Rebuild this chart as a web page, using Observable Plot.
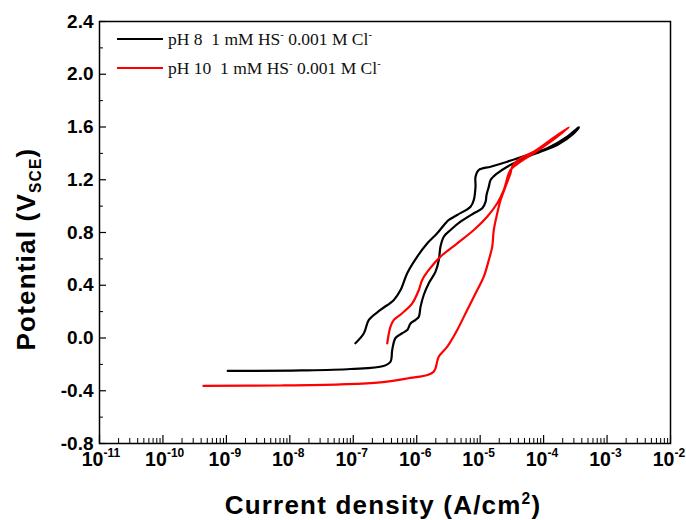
<!DOCTYPE html>
<html><head><meta charset="utf-8">
<script src="https://cdn.jsdelivr.net/npm/d3@7"></script>
<script src="https://cdn.jsdelivr.net/npm/@observablehq/plot@0.6"></script>
<style>
body{margin:0;background:#fff;}
#wrap{position:relative;width:686px;height:520px;}
.legend{position:absolute;left:117px;height:20px;line-height:20px;font-family:"Liberation Serif","Times New Roman",serif;font-size:17.5px;white-space:pre;display:flex;align-items:center;color:#111;}
.sw{display:inline-block;width:46px;height:0;border-top:2px solid;margin-right:5px;}
sup,sub{line-height:0;font-size:60%;}
.title{position:absolute;font-family:"Liberation Sans",Arial,sans-serif;font-weight:bold;font-size:26px;line-height:26px;letter-spacing:1.2px;white-space:nowrap;color:#000;}
</style></head><body><div id="wrap"></div>
<script>
// pH 8, 1 mM HS-, 0.001 M Cl- : current density (A/cm2) and potential (V SCE), in scan order
const ph8Current = [1.05e-9,1.5e-8,9.1e-8,3.0e-7,3.86e-7,4.11e-7,4.63e-7,5.9e-7,7.08e-7,7.98e-7,9.57e-7,1.08e-6,1.15e-6,1.29e-6,1.55e-6,1.98e-6,2.23e-6,2.37e-6,2.67e-6,3.41e-6,4.9e-6,7.94e-6,1.08e-5,1.22e-5,1.26e-5,1.37e-5,1.46e-5,1.86e-5,2.67e-5,3.84e-5,5.52e-5,8.93e-5,1.64e-4,2.99e-4,3.59e-4,
  3.39e-4,2.36e-4,1.14e-4,5.52e-5,2.67e-5,1.46e-5,9.5e-6,8.45e-6,8.45e-6,7.94e-6,7.05e-6,4.35e-6,3.21e-6,2.84e-6,2.1e-6,1.47e-6,1.02e-6,7.08e-7,5.56e-7,4.36e-7,2.68e-7,1.76e-7,1.47e-7,1.08e-7];
const ph8Potential = [-0.25,-0.246,-0.235,-0.212,-0.18,-0.09,0.0,0.036,0.06,0.11,0.137,0.162,0.238,0.326,0.415,0.503,0.592,0.693,0.768,0.819,0.882,0.946,0.984,1.034,1.085,1.148,1.198,1.249,1.299,1.337,1.375,1.413,1.464,1.552,1.598,
  1.59,1.527,1.439,1.388,1.337,1.299,1.274,1.223,1.148,1.047,0.996,0.933,0.895,0.87,0.794,0.718,0.617,0.491,0.364,0.289,0.213,0.137,0.036,-0.04];
// pH 10, 1 mM HS-, 0.001 M Cl-
const ph10Current = [4.35e-10,7.13e-9,6.3e-8,2.68e-7,7.98e-7,1.48e-6,1.84e-6,1.98e-6,2.23e-6,3.03e-6,4.35e-6,6.25e-6,9.0e-6,1.14e-5,1.37e-5,1.55e-5,1.64e-5,1.86e-5,2.1e-5,2.51e-5,3.01e-5,3.2e-5,4.34e-5,7.0e-5,1.29e-4,2.5e-4,
  1.29e-4,7.0e-5,4.34e-5,3.01e-5,2.36e-5,1.86e-5,1.29e-5,7.94e-6,4.35e-6,2.37e-6,1.55e-6,1.22e-6,1.08e-6,8.5e-7,5.9e-7,4.36e-7,3.86e-7,3.43e-7];
const ph10Potential = [-0.363,-0.36,-0.352,-0.337,-0.303,-0.28,-0.257,-0.229,-0.141,-0.066,0.061,0.213,0.364,0.465,0.592,0.693,0.819,0.946,1.047,1.148,1.249,1.299,1.363,1.413,1.502,1.598,
  1.489,1.401,1.337,1.274,1.123,1.022,0.92,0.819,0.718,0.617,0.516,0.44,0.364,0.263,0.188,0.137,0.086,-0.04];

const seriesNames = ["pH 8  1 mM HS", "pH 10  1 mM HS"];
const seriesColors = ["#000000", "#ff0000"];

// Ticks and tick labels
const xMajor = [1e-11,1e-10,1e-9,1e-8,1e-7,1e-6,1e-5,1e-4,1e-3,1e-2];
const xExponents = ["-11","-10","-9","-8","-7","-6","-5","-4","-3","-2"];
const minorFactors = [2,3,4,5,6,7,8,9];
const yMajor = [-0.8,-0.4,0.0,0.4,0.8,1.2,1.6,2.0,2.4];
const yMinor = [-0.6,-0.2,0.2,0.6,1.0,1.4,1.8,2.2];

const W = 686, H = 520, mL = 99, mR = 16, mT = 21, mB = 77;
const plotW = W - mL - mR, plotH = H - mT - mB;

const xMinor = xMajor.slice(0, -1).flatMap(d => minorFactors.map(f => d * f));
const ph8 = ph8Current.map((j, i) => ({j, e: ph8Potential[i]}));
const ph10 = ph10Current.map((j, i) => ({j, e: ph10Potential[i]}));

const chart = Plot.plot({
  width: W, height: H,
  marginLeft: mL, marginRight: mR, marginTop: mT, marginBottom: mB,
  style: {fontFamily: "'Liberation Sans', Arial, sans-serif", background: "#fff", color: "#000"},
  x: {type: "log", domain: [1e-11, 1e-2], axis: null},
  y: {domain: [-0.8, 2.4], axis: null},
  marks: [
    Plot.ruleX(xMinor, {x: d => d, insetTop: plotH - 5, stroke: "#000", strokeWidth: 1}),
    Plot.ruleX(xMajor, {x: d => d, insetTop: plotH - 8, stroke: "#000", strokeWidth: 1.2}),
    Plot.ruleY(yMinor, {y: d => d, insetRight: plotW - 4, stroke: "#000", strokeWidth: 1}),
    Plot.ruleY(yMajor, {y: d => d, insetRight: plotW - 7, stroke: "#000", strokeWidth: 1.2}),
    Plot.line(ph8, {x: "j", y: "e", stroke: seriesColors[0], strokeWidth: 2.2, curve: "catmull-rom"}),
    Plot.line(ph10, {x: "j", y: "e", stroke: seriesColors[1], strokeWidth: 2.2, curve: "catmull-rom"}),
    Plot.frame({stroke: "#000", strokeWidth: 1.5}),
    Plot.axisY(yMajor, {tickSize: 0, tickPadding: 6, tickFormat: d => d.toFixed(1), fontSize: 19, fontWeight: "bold", label: null}),
    Plot.text(xMajor, {x: d => d, text: () => "10", frameAnchor: "bottom", dy: 22, dx: -7, fontSize: 19.5, fontWeight: "bold", fill: "#000"}),
    Plot.text(xMajor, {x: d => d, text: (d, i) => xExponents[i], frameAnchor: "bottom", dy: 13, dx: 4, textAnchor: "start", fontSize: 12, fontWeight: "bold", fill: "#000"})
  ]
});

const wrap = document.getElementById("wrap");
wrap.appendChild(chart);

// Legend (inside the frame, top-left)
const legendTops = [29, 58];
seriesNames.forEach((name, i) => {
  const row = document.createElement("div");
  row.className = "legend";
  row.style.top = legendTops[i] + "px";
  row.innerHTML = `<span class="sw" style="border-color:${seriesColors[i]}"></span><span>${name}<sup>-</sup> 0.001 M Cl<sup>-</sup></span>`;
  wrap.appendChild(row);
});

// Axis titles
const xt = document.createElement("div");
xt.className = "title";
xt.style.left = "383px"; xt.style.top = "492px"; xt.style.transform = "translateX(-50%)";
xt.innerHTML = "Current density (A/cm<sup>2</sup>)";
wrap.appendChild(xt);

const yt = document.createElement("div");
yt.className = "title";
yt.style.left = "26px"; yt.style.top = "249px"; yt.style.transform = "translate(-50%,-50%) rotate(-90deg)";
yt.innerHTML = "Potential (V<sub>SCE</sub>)";
wrap.appendChild(yt);
</script>
</body></html>
